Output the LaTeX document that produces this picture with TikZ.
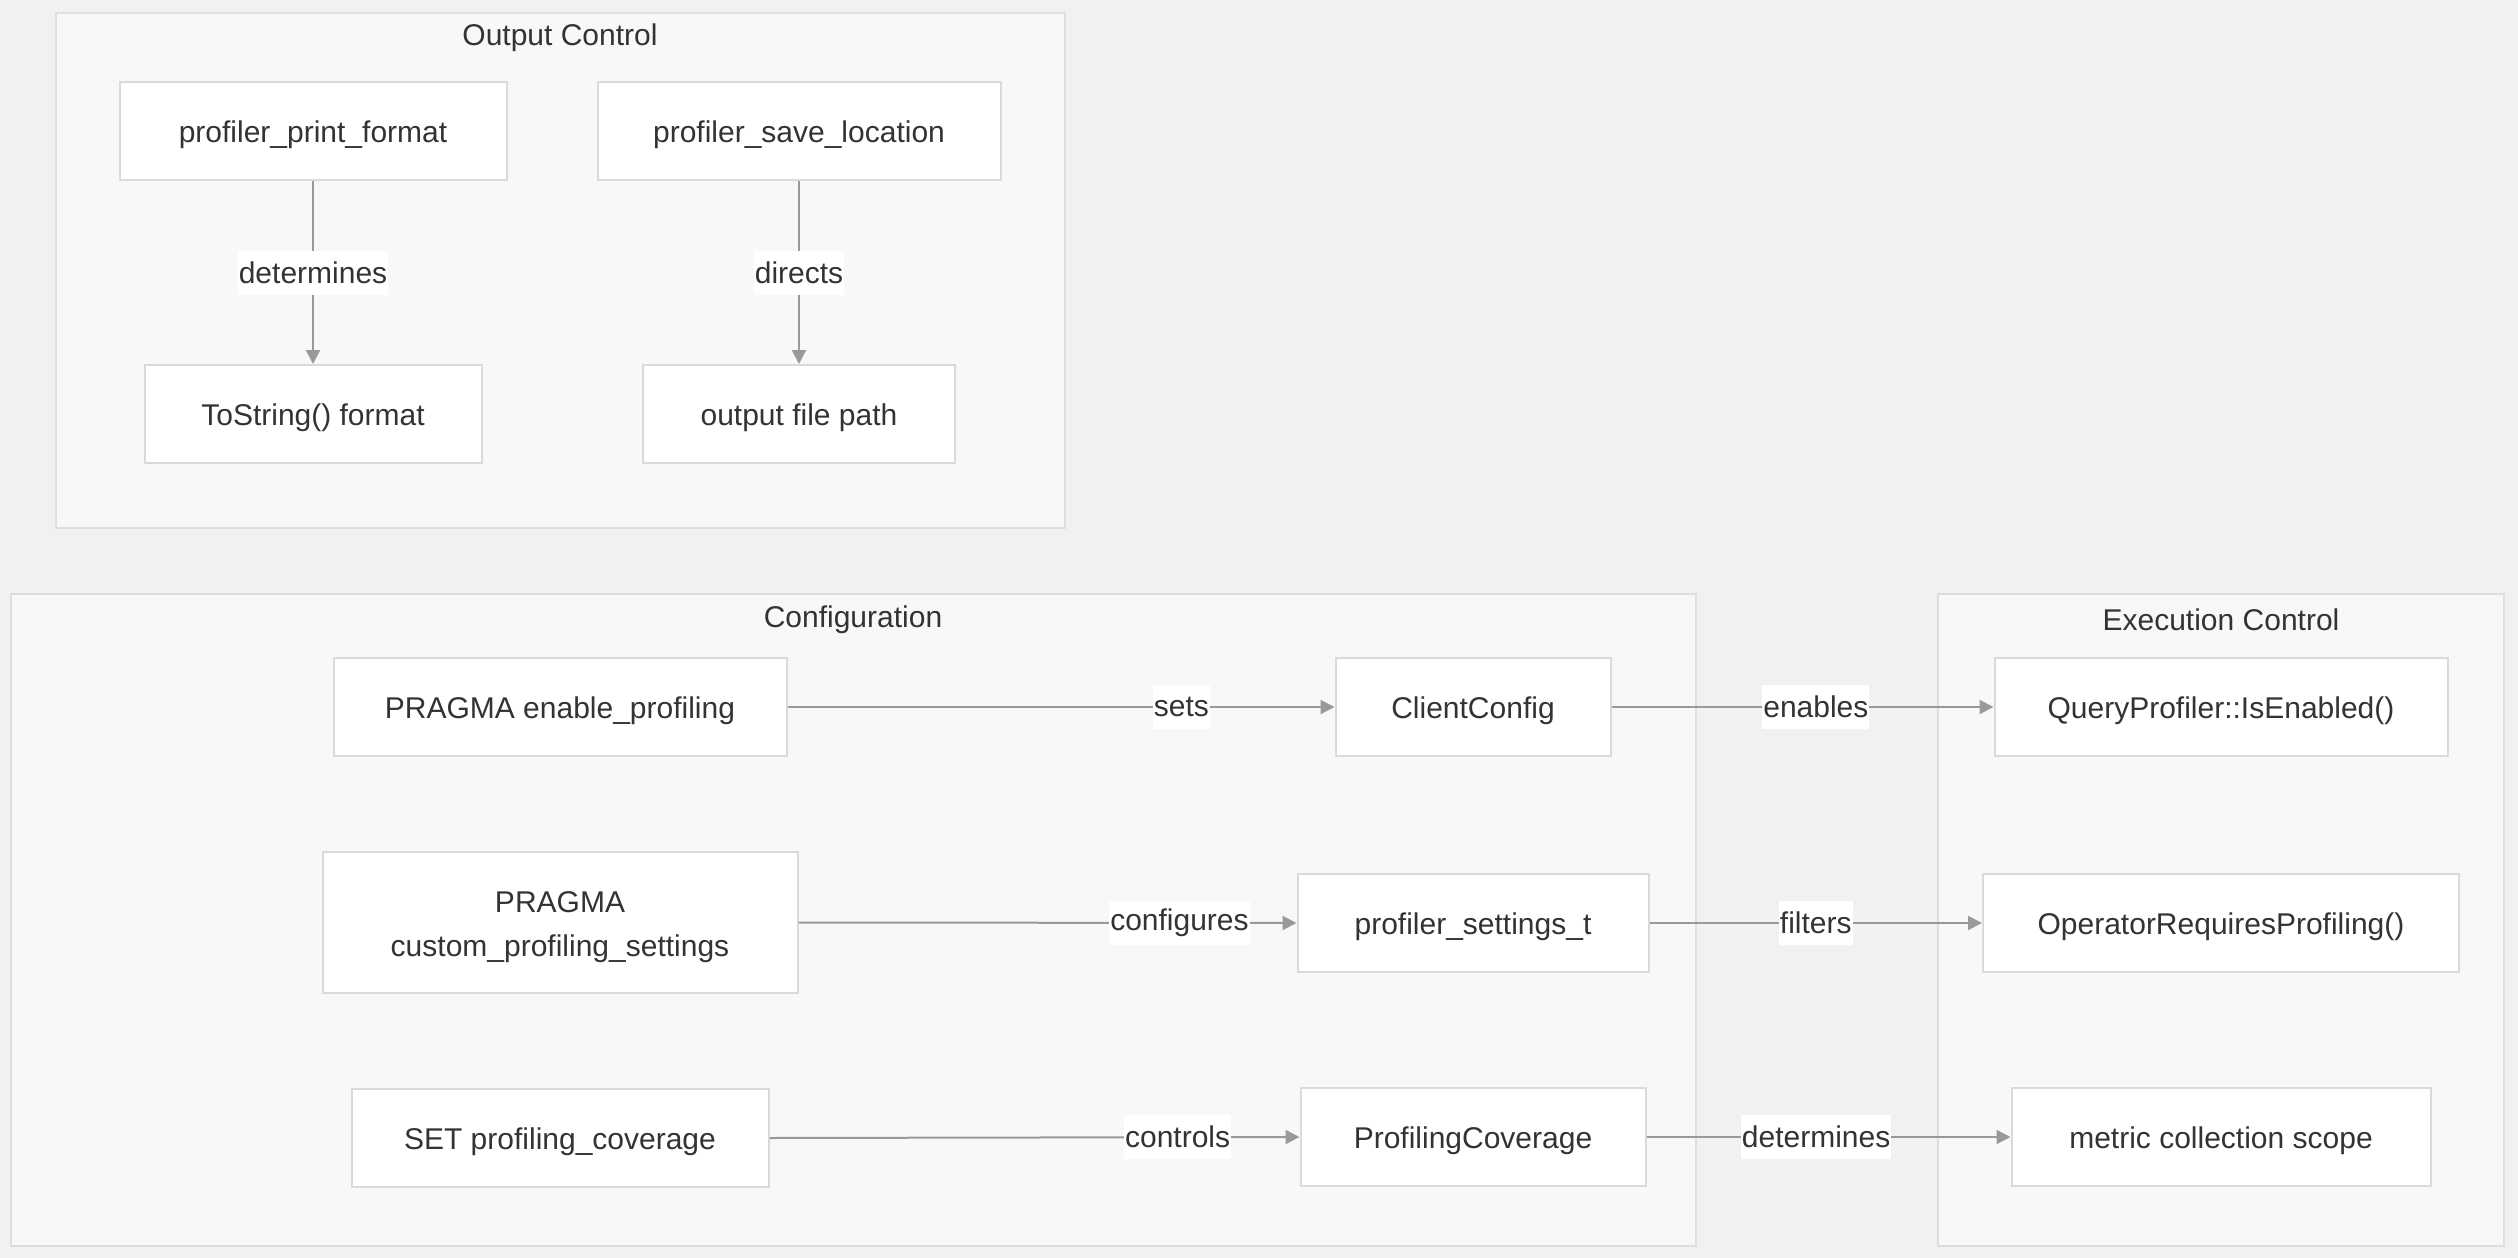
\documentclass[tikz,border=0pt]{standalone}
\usepackage{fontspec}
\setmainfont{Liberation Sans}
\usetikzlibrary{arrows.meta,positioning}
\definecolor{pagebg}{RGB}{242,241,239}
\definecolor{clusterbg}{RGB}{248,248,248}
\definecolor{clusterline}{RGB}{222,222,222}
\definecolor{boxline}{RGB}{218,218,218}
\definecolor{edgegrey}{RGB}{153,153,153}
\definecolor{ink}{RGB}{51,51,51}

\begin{document}
\begin{tikzpicture}[x=1pt,y=1pt,font=\fontsize{15}{22}\selectfont,text=ink,
  >={Triangle[length=7pt,width=7pt]},
  s/.style={draw=boxline,line width=1pt,fill=white,minimum height=49pt,inner xsep=10pt,
    text height=11.8pt,text depth=0pt,align=center},
  grp/.style={draw=clusterline,line width=1pt,fill=clusterbg},
  lbl/.style={fill=white,inner xsep=0.5pt,inner ysep=0pt,minimum height=22pt},
  link/.style={->,draw=edgegrey,line width=1pt}]
\fill[pagebg] (0,0) rectangle (1259,-629);
\useasboundingbox (0,0) rectangle (1259,-629);
\draw[grp] (28,-6.5) rectangle (532.5,-264);
\draw[grp] (5.5,-297) rectangle (848,-623);
\draw[grp] (969,-297) rectangle (1252,-623);
\node (tout) at (280,-19) {Output Control};
\node (tcfg) at (426.5,-310) {Configuration};
\node (texe) at (1110.5,-310) {Execution Control};
\node[s,minimum width=193.5pt] (ppf) at (156.5,-65.5) {profiler\_print\_format};
\node[s,minimum width=168.5pt,below=91.5pt of ppf] (tostr) {ToString() format};
\node[s,minimum width=201.5pt] (psl) at (399.5,-65.5) {profiler\_save\_location};
\node[s,minimum width=156pt,below=91.5pt of psl] (ofp) {output file path};
\node[s,minimum width=226.5pt] (pep) at (280,-353.5) {PRAGMA enable\_profiling};
\node[s,minimum width=237.5pt,minimum height=70.5pt,text height=33.8pt,below=47pt of pep] (pcps) {PRAGMA\\custom\_profiling\_settings};
\node[s,minimum width=208.5pt,below=47pt of pcps] (spc) {SET profiling\_coverage};
\node[s,minimum width=137.5pt] (cc) at (736.5,-353.5) {ClientConfig};
\node[s,minimum width=175.5pt,below=58pt of cc] (pst) {profiler\_settings\_t};
\node[s,minimum width=172.5pt,below=57pt of pst] (pcov) {ProfilingCoverage};
\node[s,minimum width=226.5pt] (qp) at (1110.5,-353.5) {QueryProfiler::IsEnabled()};
\node[s,minimum width=238pt,below=58pt of qp] (orp) {OperatorRequiresProfiling()};
\node[s,minimum width=209.5pt,below=57pt of orp] (mcs) {metric collection scope};
\draw[link] (ppf) -- node[lbl]{determines} (tostr);
\draw[link] (psl) -- node[lbl]{directs} (ofp);
\draw[link] (pep) -- node[lbl,pos=0.72]{sets} (cc);
\draw[link] (pcps.east) -- node[lbl,pos=0.765]{configures} (pst.west);
\draw[link] (spc.east) -- node[lbl,pos=0.77]{controls} (pcov.west);
\draw[link] (cc) -- node[lbl,pos=0.535]{enables} (qp);
\draw[link] (pst.east) -- node[lbl,pos=0.5]{filters} (orp.west);
\draw[link] (pcov.east) -- node[lbl,pos=0.466]{determines} (mcs.west);
\end{tikzpicture}
\end{document}
